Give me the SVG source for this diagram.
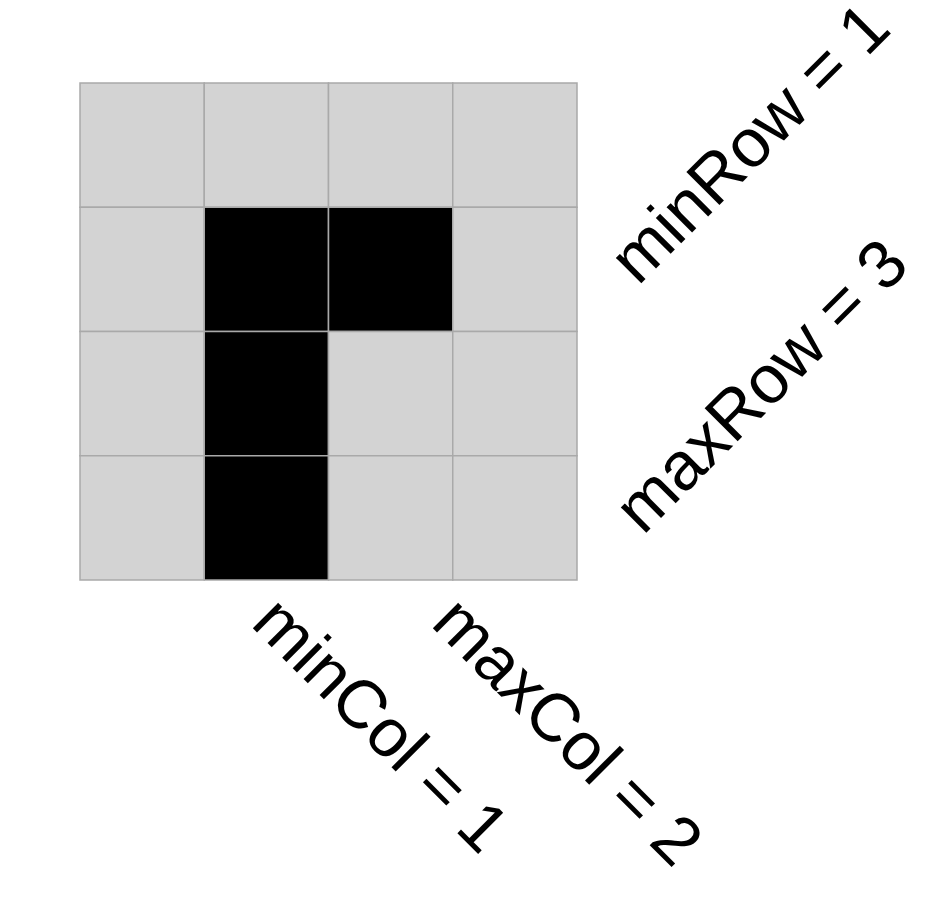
<svg xmlns="http://www.w3.org/2000/svg" width="938" height="900" viewBox="0 0 938 900">
<style>
.c{fill:#d3d3d3;stroke:#a9a9a9;stroke-width:1.5}
.b{fill:#000000;stroke:#a9a9a9;stroke-width:1.5}
.t{font-family:"Liberation Sans",Arial,sans-serif;font-size:68px;fill:#000;dominant-baseline:central}
</style>
<rect width="938" height="900" fill="#ffffff"/>
<g id="grid">
<rect class="c" x="80" y="83" width="124.25" height="124.25"/>
<rect class="c" x="204.25" y="83" width="124.25" height="124.25"/>
<rect class="c" x="328.5" y="83" width="124.25" height="124.25"/>
<rect class="c" x="452.75" y="83" width="124.25" height="124.25"/>
<rect class="c" x="80" y="207.25" width="124.25" height="124.25"/>
<rect class="b" x="204.25" y="207.25" width="124.25" height="124.25"/>
<rect class="b" x="328.5" y="207.25" width="124.25" height="124.25"/>
<rect class="c" x="452.75" y="207.25" width="124.25" height="124.25"/>
<rect class="c" x="80" y="331.5" width="124.25" height="124.25"/>
<rect class="b" x="204.25" y="331.5" width="124.25" height="124.25"/>
<rect class="c" x="328.5" y="331.5" width="124.25" height="124.25"/>
<rect class="c" x="452.75" y="331.5" width="124.25" height="124.25"/>
<rect class="c" x="80" y="455.75" width="124.25" height="124.25"/>
<rect class="b" x="204.25" y="455.75" width="124.25" height="124.25"/>
<rect class="c" x="328.5" y="455.75" width="124.25" height="124.25"/>
<rect class="c" x="452.75" y="455.75" width="124.25" height="124.25"/>
</g>
<g id="labels">
<text class="t" transform="translate(621,269.5) rotate(-45)">minRow = 1</text>
<text class="t" transform="translate(626,519) rotate(-45)">maxRow = 3</text>
<text class="t" transform="translate(266.4,608) rotate(45)">minCol = 1</text>
<text class="t" transform="translate(446.5,608) rotate(45)">maxCol = 2</text>
</g>
</svg>
